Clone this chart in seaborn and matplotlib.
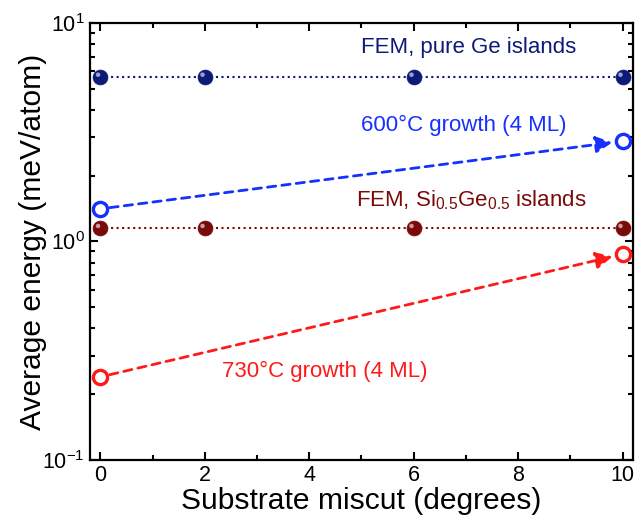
import numpy as np
import pandas as pd
import matplotlib
matplotlib.use('Agg')
import matplotlib.pyplot as plt
import matplotlib.ticker as ticker
from matplotlib.path import Path
import seaborn as sns

# data
miscut_fem = [0, 2, 6, 10]
fem_ge = [5.66, 5.66, 5.66, 5.66]
fem_sige = [1.15, 1.15, 1.15, 1.15]
miscut_exp = [0, 10]
exp_600 = [1.41, 2.88]
exp_730 = [0.24, 0.875]

NAVY = '#0d1a78'
DARKRED = '#7a0a0a'
BLUE = '#1530ff'
RED = '#ff1a1a'

sns.set_theme(style='ticks')
plt.rcParams['font.family'] = ['Liberation Sans', 'DejaVu Sans']
plt.rcParams['mathtext.fontset'] = 'custom'
plt.rcParams['mathtext.rm'] = 'Liberation Sans'

# small off-centre dot used as the shine on the "ball" markers
circ = Path.unit_circle()
shine = Path(np.concatenate([circ.vertices * 0.3 + [-0.3, 0.3], circ.vertices[:1] * 1.0]),
             np.concatenate([circ.codes, [Path.MOVETO]]))

fig, ax = plt.subplots(figsize=(6.37, 5.21), dpi=100)
fig.subplots_adjust(left=0.141, right=0.994, top=0.956, bottom=0.117)

df_fem = pd.DataFrame({'miscut': miscut_fem, 'ge': fem_ge, 'sige': fem_sige})

# dotted FEM lines
sns.lineplot(data=df_fem, x='miscut', y='ge', ax=ax, color=NAVY, linestyle=':', lw=1.5)
sns.lineplot(data=df_fem, x='miscut', y='sige', ax=ax, color=DARKRED, linestyle=':', lw=1.5)

# "ball" markers: dark base + light highlight
for col, c in [('ge', NAVY), ('sige', DARKRED)]:
    sns.scatterplot(data=df_fem, x='miscut', y=col, ax=ax, color=c, s=115,
                    edgecolor=c, linewidth=0.5, zorder=4)
    sns.scatterplot(data=df_fem, x='miscut', y=col, ax=ax, color='white', s=115,
                    marker=shine, edgecolor='none', alpha=0.6, zorder=5)

# experimental points with dashed arrows
for ys, c in [(exp_600, BLUE), (exp_730, RED)]:
    ax.annotate('', xy=(miscut_exp[1], ys[1]), xytext=(miscut_exp[0], ys[0]),
                arrowprops=dict(arrowstyle='-|>', color=c, lw=2, linestyle=(0, (3, 2.2)),
                                shrinkA=7, shrinkB=7.5, mutation_scale=25))
    sns.scatterplot(x=miscut_exp, y=ys, ax=ax, s=105, facecolor='white',
                    edgecolor=c, linewidth=2.4, zorder=5)

ax.set_yscale('log')
ax.set_xlim(-0.2, 10.2)
ax.set_ylim(0.1, 10)
ax.xaxis.set_major_locator(ticker.MultipleLocator(2))
ax.xaxis.set_minor_locator(ticker.MultipleLocator(1))
ax.yaxis.set_major_locator(ticker.LogLocator(base=10))
ax.yaxis.set_minor_locator(ticker.LogLocator(base=10, subs=np.arange(2, 10)))
ax.yaxis.set_minor_formatter(ticker.NullFormatter())
ax.tick_params(which='both', direction='in', top=True, right=True, width=1.5,
               labelsize=15.5, colors='black')
ax.tick_params(which='major', length=6)
ax.tick_params(which='minor', length=3.5)
for s in ax.spines.values():
    s.set_linewidth(1.6)
    s.set_color('black')

ax.set_xlabel('Substrate miscut (degrees)', fontsize=21.6, labelpad=1, color='black')
ax.set_ylabel('Average energy (meV/atom)', fontsize=21.6, labelpad=-3, color='black')

ax.text(7.05, 7.75, 'FEM, pure Ge islands', color=NAVY, fontsize=16, ha='center', va='center')
ax.text(6.95, 3.4, '600°C growth (4 ML)', color=BLUE, fontsize=16, ha='center', va='center')
ax.text(7.1, 1.55, r'FEM, Si$_{0.5}$Ge$_{0.5}$ islands', color=DARKRED, fontsize=16,
        ha='center', va='center')
ax.text(4.3, 0.255, '730°C growth (4 ML)', color=RED, fontsize=16, ha='center', va='center')

fig.savefig('out.png', dpi=100)
